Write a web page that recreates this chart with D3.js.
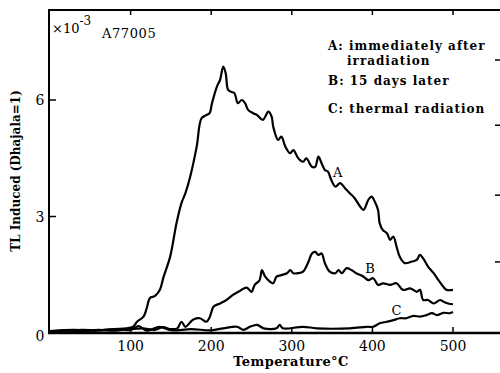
<!DOCTYPE html>
<html><head><meta charset="utf-8">
<script src="https://cdn.jsdelivr.net/npm/d3@7"></script>
<style>
body{margin:0;background:#fff;}
svg text{font-family:"DejaVu Serif",serif;fill:#000;}
</style></head>
<body><svg id="c" width="500" height="373"></svg>
<script>
// Temperature (°C), TL induced (×10^-3)
const curveA = [[0,0.05],[20,0.06],[40,0.08],[60,0.07],[80,0.1],[95,0.12],[103,0.16],[108,0.29],[116,0.42],[120,0.64],[124,0.9],[130,0.95],[136,1.1],[141,1.45],[149,1.96],[157,2.83],[163,3.34],[168,3.6],[174,4.03],[182,4.8],[188,5.53],[194,5.61],[198,5.66],[201,5.92],[207,6.34],[211,6.52],[215,6.86],[218,6.69],[221,6.26],[225,6.21],[229,6.17],[233,5.92],[238,6.0],[242,5.92],[246,5.74],[252,5.66],[257,5.61],[264,5.49],[271,5.7],[275,5.57],[277,5.31],[283,4.97],[287,5.06],[292,4.8],[298,4.63],[302,4.71],[308,4.5],[314,4.41],[318,4.5],[325,4.28],[329,4.28],[333,4.54],[337,4.37],[341,4.2],[345,4.15],[349,3.94],[354,3.77],[360,3.86],[366,3.73],[372,3.6],[378,3.47],[385,3.25],[389,3.17],[395,3.43],[399,3.51],[403,3.38],[407,3.17],[409,2.83],[413,2.65],[418,2.57],[422,2.4],[426,2.48],[430,2.22],[434,1.96],[440,1.8],[449,1.84],[455,1.88],[459,2.01],[463,1.92],[469,1.71],[476,1.54],[482,1.36],[488,1.19],[492,1.11],[500,1.11]];
const curveB = [[0,0.04],[20,0.06],[40,0.05],[60,0.08],[80,0.06],[100,0.1],[115,0.12],[130,0.08],[140,0.15],[150,0.1],[158,0.12],[163,0.29],[168,0.16],[175,0.3],[178,0.35],[186,0.38],[194,0.29],[198,0.4],[203,0.68],[211,0.76],[219,0.85],[227,0.98],[236,1.09],[244,1.17],[250,1.06],[254,1.24],[260,1.36],[263,1.62],[267,1.45],[273,1.32],[277,1.28],[281,1.45],[287,1.49],[294,1.54],[298,1.62],[302,1.54],[308,1.54],[314,1.58],[320,1.8],[325,2.05],[329,2.09],[333,2.01],[337,2.05],[341,1.8],[347,1.58],[354,1.54],[358,1.62],[362,1.54],[368,1.67],[374,1.62],[380,1.54],[389,1.45],[395,1.36],[401,1.41],[407,1.24],[413,1.28],[422,1.24],[430,1.28],[438,1.11],[447,1.15],[455,1.06],[459,1.11],[463,0.85],[469,0.85],[476,0.76],[484,0.85],[488,0.81],[494,0.76],[500,0.74]];
const curveC = [[0,0.05],[30,0.08],[55,0.06],[80,0.1],[100,0.08],[110,0.18],[120,0.06],[136,0.16],[150,0.07],[175,0.1],[200,0.07],[215,0.12],[232,0.16],[240,0.08],[248,0.16],[257,0.21],[265,0.12],[281,0.12],[285,0.21],[289,0.12],[314,0.16],[331,0.12],[372,0.12],[393,0.16],[401,0.16],[409,0.25],[418,0.29],[426,0.33],[434,0.38],[442,0.38],[451,0.44],[459,0.42],[467,0.46],[474,0.51],[480,0.46],[488,0.52],[496,0.51],[500,0.54]];
const xTicks = [100,200,300,400,500];
const yTicks = [0,3,6];
const rightTicks = [7.03,5.35,3.55,1.83];
const curveLabels = ["A","B","C"];
const curveLabelAt = [[357,4.02],[397,1.55],[430,0.46]];
const legendLines = ["A: immediately after","irradiation","B: 15 days later","C: thermal radiation"];

const svg = d3.select("#c");
const x = d3.scaleLinear().domain([0,500]).range([50,453]);
const y = d3.scaleLinear().domain([0,6]).range([333,100]);

// frame lines
svg.append("line").attr("x1",49).attr("x2",49).attr("y1",10).attr("y2",334).attr("stroke","#000").attr("stroke-width",2);
svg.append("line").attr("x1",48).attr("x2",500).attr("y1",10).attr("y2",10).attr("stroke","#000").attr("stroke-width",2);
svg.append("line").attr("x1",48).attr("x2",500).attr("y1",y(0)).attr("y2",y(0)).attr("stroke","#000").attr("stroke-width",2.5);

// top ticks
svg.selectAll(".tt").data(xTicks).join("line").attr("x1",d=>x(d)).attr("x2",d=>x(d)).attr("y1",10).attr("y2",15).attr("stroke","#000").attr("stroke-width",1.5);
// bottom ticks
svg.selectAll(".bt").data(xTicks).join("line").attr("x1",d=>x(d)).attr("x2",d=>x(d)).attr("y1",y(0)).attr("y2",y(0)-6).attr("stroke","#000").attr("stroke-width",1.5);
// left ticks
svg.selectAll(".lt").data(yTicks.filter(d=>d>0)).join("line").attr("x1",49).attr("x2",56).attr("y1",d=>y(d)).attr("y2",d=>y(d)).attr("stroke","#000").attr("stroke-width",1.5);
// right edge ticks (partial right axis)
svg.selectAll(".rt").data(rightTicks).join("line").attr("x1",495).attr("x2",500).attr("y1",d=>y(d)).attr("y2",d=>y(d)).attr("stroke","#000").attr("stroke-width",1.5);

// tick labels
svg.selectAll(".xl").data(xTicks).join("text").attr("x",d=>x(d)).attr("y",y(0)+18).attr("text-anchor","middle").attr("font-size",14).text(d=>d);
svg.selectAll(".yl").data(yTicks).join("text").attr("x",40).attr("y",d=>y(d)+5+(d===0?3:0)).attr("text-anchor","middle").attr("font-size",14).text(d=>d);

// curves
const line = d3.line().x(d=>x(d[0])).y(d=>y(d[1])).curve(d3.curveCatmullRom.alpha(0.5));
[curveA,curveB,curveC].forEach(c=>{
  svg.append("path").attr("d",line(c)).attr("fill","none").attr("stroke","#000").attr("stroke-width",2.2).attr("stroke-linejoin","round");
});

// curve labels
svg.selectAll(".cl").data(curveLabels).join("text").attr("x",(d,i)=>x(curveLabelAt[i][0])).attr("y",(d,i)=>y(curveLabelAt[i][1])).attr("text-anchor","middle").attr("font-size",13).text(d=>d);

// ×10^-3 and sample id
const mult = svg.append("text").attr("x",52).attr("y",33).attr("font-size",13);
mult.append("tspan").text("×10");
mult.append("tspan").attr("dy",-8).attr("font-size",12).text("-3");
svg.append("text").attr("x",102).attr("y",38).attr("font-size",13).attr("letter-spacing",0.6).text("A77005");

// legend
const legX = [328,347,328,328];
const legY = [50,65,85,113];
svg.selectAll(".lg").data(legendLines).join("text").attr("x",(d,i)=>legX[i]).attr("y",(d,i)=>legY[i]).attr("font-size",12).attr("font-weight","bold").attr("letter-spacing",1).text(d=>d);

// axis titles
svg.append("text").attr("x",291).attr("y",366).attr("text-anchor","middle").attr("font-size",13).attr("font-weight","bold").attr("letter-spacing",0.4).text("Temperature°C");
svg.append("text").attr("transform","translate(20,171) rotate(-90)").attr("text-anchor","middle").attr("font-size",12).attr("font-weight","bold").text("TL Induced (Dhajala=1)");
</script></body></html>
